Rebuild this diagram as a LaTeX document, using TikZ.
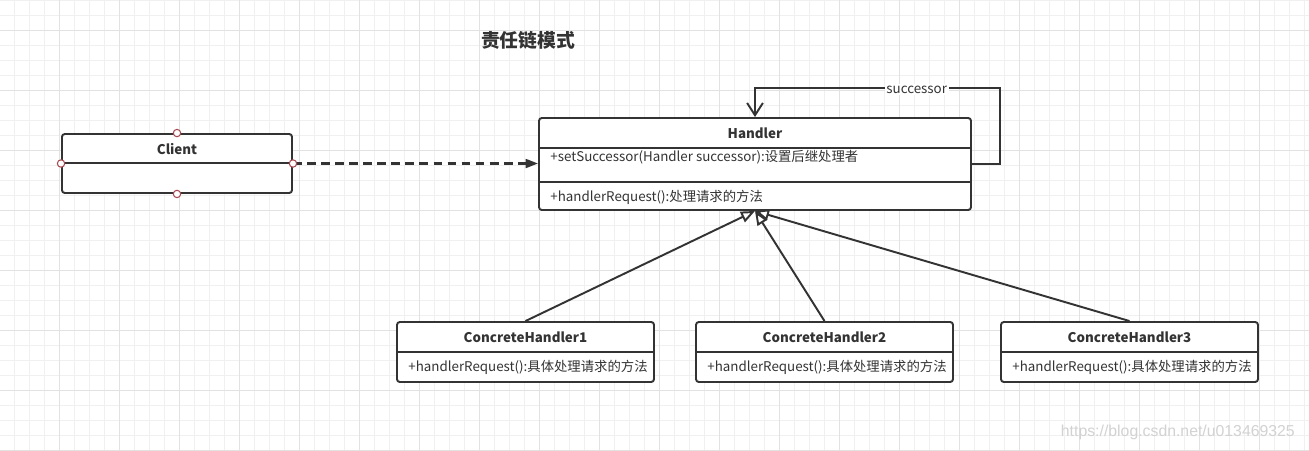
\documentclass[tikz,border=0pt]{standalone}
\usepackage{fontspec}
\setmainfont{Noto Sans CJK SC}
\newfontfamily\markfont{Liberation Sans}
\usepackage{tikz}
\usetikzlibrary{arrows.meta, fit}
\definecolor{LINEcolor}{HTML}{333333}
\definecolor{GRIDminor}{HTML}{f0f0f0}
\definecolor{GRIDmajor}{HTML}{e2e2e2}
\definecolor{HANDLEcolor}{HTML}{a8474f}
\definecolor{MARKcolor}{HTML}{d2d2d2}

\begin{document}
\begin{tikzpicture}[x=0.02cm, y=-0.02cm,
    umlbox/.style={draw=LINEcolor, line width=1.1pt, rounded corners=1.6pt, fill=white, inner sep=0pt},
    boxtitle/.style={font=\fontsize{7.6pt}{9pt}\selectfont\bfseries, text=LINEcolor},
    boxtext/.style={font=\fontsize{7.6pt}{9pt}\selectfont, text=LINEcolor, anchor=west, inner sep=0pt},
    conn/.style={draw=LINEcolor, line width=1.1pt},
    inherit/.style={conn, -{Triangle[length=8pt, width=6.5pt, fill=white]}},
    handlept/.style={circle, draw=HANDLEcolor, fill=white, line width=0.6pt, inner sep=0pt, minimum size=4.2pt},
]
    \useasboundingbox (0,0) rectangle (1309,450);

    % grid
    \fill [white] (0,0) rectangle (1309,450);
    \foreach \gx in {0, ..., 86} {%
            \draw [GRIDminor, line width=0.55pt] ({14.5+15*\gx}, 0) -- ++(0, 450);
        }
    \foreach \gy in {0, ..., 30} {%
            \draw [GRIDminor, line width=0.55pt] (0, 15*\gy) -- ++(1309, 0);
        }
    \foreach \gx in {0, ..., 20} {%
            \draw [GRIDmajor, line width=0.55pt] ({59.5+60*\gx}, 0) -- ++(0, 450);
        }
    \foreach \gy in {0, ..., 7} {%
            \draw [GRIDmajor, line width=0.55pt] (0, 30+60*\gy) -- ++(1309, 0);
        }

    % title
    \node [font=\fontsize{10.7pt}{12pt}\selectfont\bfseries, text=LINEcolor] (title) at (528, 40) {责任链模式};

    % Client
    \node [umlbox, fit={(62,134) (292,193)}] (client) {};
    \draw [conn] (62, 163) -- (292, 163);
    \node [boxtitle] (clienttitle) at (177, 149) {Client};

    % Handler
    \node [umlbox, fit={(539,118) (971,210)}] (handler) {};
    \draw [conn] (539, 148) -- (971, 148);
    \draw [conn] (539, 182) -- (971, 182);
    \node [boxtitle] (handlertitle) at (755, 133) {Handler};
    \node [boxtext] (setsucc) at (550, 157) {+setSuccessor(Handler successor):设置后继处理者};
    \node [boxtext] (handlereq) at (550, 197) {+handlerRequest():处理请求的方法};

    % client -> handler
    \draw [conn, line width=1.3pt, dash pattern=on 5pt off 3pt, -{Triangle[length=7pt, width=5pt]}] (client.east) -- (client.east -| handler.west);
    \foreach \a in {north, west, east, south} {%
            \node [handlept] (handle\a) at (client.\a) {};
        }

    % successor
    \coordinate (loopcorner) at (1000, 88);
    \draw [conn, -{Straight Barb[length=7pt, width=9pt]}] (handler.east) -| (loopcorner) -| (handler.north)
    node [pos=0.17, fill=white, inner sep=1pt, yshift=-1pt, font=\fontsize{7.6pt}{9pt}\selectfont, text=LINEcolor] (succlabel) {successor};

    % concrete handlers
    \foreach \cx/\cn in {397/1, 696/2, 1001/3} {%
            \node [umlbox, fit={(\cx,322) (\cx+257,382)}] (concrete\cn) {};
            \draw [conn] (\cx, 352) -- (\cx+257, 352);
            \node [boxtitle] (concretetitle\cn) at (\cx+128.5, 337) {ConcreteHandler\cn};
            \node [boxtext] (concretereq\cn) at (\cx+11, 367) {+handlerRequest():具体处理请求的方法};
            \draw [inherit] (concrete\cn.north) -- (handler.south);
        }

    \node [anchor=east, text=MARKcolor, font=\markfont\fontsize{9pt}{10pt}\selectfont] (watermark) at (1301, 432) {https://blog.csdn.net/u013469325};
\end{tikzpicture}
\end{document}
